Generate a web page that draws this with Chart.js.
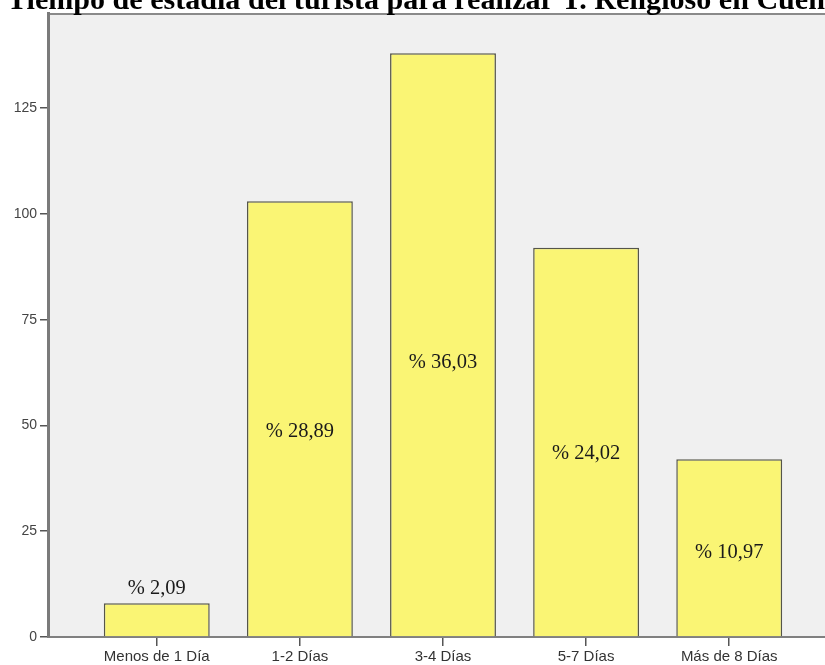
<!DOCTYPE html>
<html>
<head>
<meta charset="utf-8">
<script src="https://cdn.jsdelivr.net/npm/chart.js@4/dist/chart.umd.min.js"></script>
<style>
  html, body { margin: 0; padding: 0; background: #fff; }
  #wrap { width: 825px; height: 665px; overflow: hidden; position: relative; }
  #chart { position: absolute; left: 0; top: 0; }
</style>
</head>
<body>
<div id="wrap"><canvas id="chart" width="848" height="665"></canvas></div>
<script>
const categories = ['Menos de 1 Día', '1-2 Días', '3-4 Días', '5-7 Días', 'Más de 8 Días'];
const counts = [8, 103, 138, 92, 42];
const percentLabels = ['% 2,09', '% 28,89', '% 36,03', '% 24,02', '% 10,97'];
const yTicks = [0, 25, 50, 75, 100, 125];
const titleText = 'Tiempo de estadía del turista para realizar T. Religioso en Cuenca';

// grey plot background with a frame line on top
const frame = {
    id: 'frame',
    beforeDraw(c) {
        const a = c.chartArea, ctx = c.ctx;
        ctx.save();
        ctx.fillStyle = '#f0f0f0';
        ctx.fillRect(a.left, a.top, a.right - a.left, a.bottom - a.top);
        ctx.strokeStyle = '#8a8a8a';
        ctx.lineWidth = 2;
        ctx.beginPath();
        ctx.moveTo(a.left, a.top + 1);
        ctx.lineTo(a.right, a.top + 1);
        ctx.stroke();
        ctx.restore();
    }
};

// big bold title, cropped by the top and right edge like the original picture
const cropTitle = {
    id: 'cropTitle',
    afterDraw(c) {
        const ctx = c.ctx;
        ctx.save();
        ctx.font = 'bold 30px "Liberation Serif", "Times New Roman", serif';
        // scale so "...Cuen" ends at the window edge
        const w = ctx.measureText(titleText.slice(0, -2)).width;
        const size = 30 * 818 / w;
        ctx.font = 'bold ' + size.toFixed(2) + 'px "Liberation Serif", "Times New Roman", serif';
        ctx.fillStyle = '#000';
        ctx.textAlign = 'left';
        ctx.textBaseline = 'alphabetic';
        ctx.fillText(titleText, 7, 9);
        ctx.restore();
    }
};

// percentage labels inside (or above) the bars
const pctLabels = {
    id: 'pctLabels',
    afterDatasetsDraw(c) {
        const ctx = c.ctx;
        const meta = c.getDatasetMeta(0);
        ctx.save();
        ctx.font = '20.5px "Liberation Serif", "Times New Roman", serif';
        ctx.fillStyle = '#1a1a1a';
        ctx.textAlign = 'center';
        ctx.textBaseline = 'middle';
        meta.data.forEach((bar, i) => {
            const h = bar.base - bar.y;
            const y = h < 60 ? bar.y - 15 : bar.base - h * 0.47;
            ctx.fillText(percentLabels[i], bar.x, y);
        });
        ctx.restore();
    }
};

new Chart(document.getElementById('chart'), {
    type: 'bar',
    data: {
        datasets: [{
            data: counts.map((v, i) => ({ x: i, y: v })),
            backgroundColor: '#faf574',
            borderColor: '#55554a',
            borderWidth: 1.5,
            categoryPercentage: 0.74,
            barPercentage: 1
        }]
    },
    options: {
        responsive: false,
        animation: false,
        layout: { padding: { left: 0, right: 10, top: 13, bottom: 0 } },
        plugins: {
            legend: { display: false },
            tooltip: { enabled: false },
            title: { display: false }
        },
        scales: {
            x: {
                type: 'linear',
                offset: false,
                min: -0.76,
                max: 4.76,
                afterBuildTicks: s => { s.ticks = categories.map((_, i) => ({ value: i })); },
                afterFit: s => { s.height = 28; },
                ticks: {
                    autoSkip: false,
                    maxRotation: 0,
                    padding: 2,
                    color: '#333',
                    font: { family: '"Liberation Sans", Arial, sans-serif', size: 15 },
                    callback: v => categories[v]
                },
                grid: { offset: false, drawOnChartArea: false, drawTicks: true, tickLength: 9, color: '#555', lineWidth: 1.5 },
                border: { display: true, color: '#808080', width: 2 }
            },
            y: {
                min: 0,
                max: 147.5,
                afterBuildTicks: s => { s.ticks = yTicks.map(v => ({ value: v })); },
                afterFit: s => { s.width = 48; },
                ticks: {
                    padding: 3,
                    color: '#444',
                    font: { family: '"Liberation Sans", Arial, sans-serif', size: 14 }
                },
                grid: { drawOnChartArea: false, drawTicks: true, tickLength: 8, color: '#555', lineWidth: 1.5 },
                border: { display: true, color: '#7a7a7a', width: 3 }
            }
        }
    },
    plugins: [frame, pctLabels, cropTitle]
});
</script>
</body>
</html>
